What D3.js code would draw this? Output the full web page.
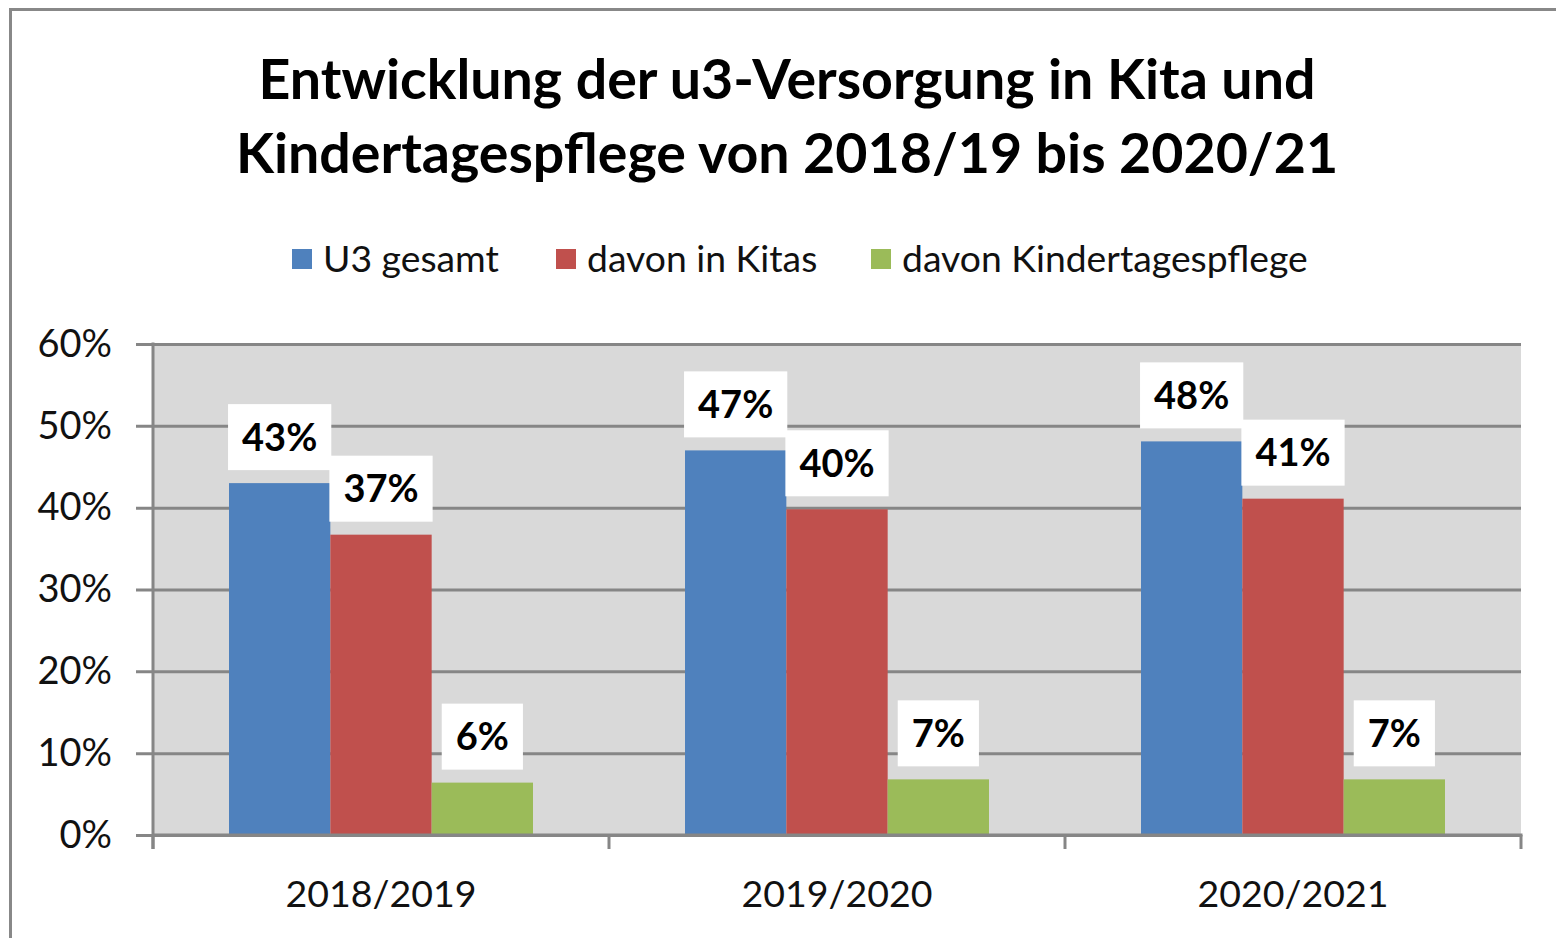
<!DOCTYPE html>
<html>
<head>
<meta charset="utf-8">
<script src="https://cdn.jsdelivr.net/npm/d3@7"></script>
<style>
  html, body { margin: 0; padding: 0; background: #fff; }
  svg { display: block; }
  text { font-family: Lato, "Open Sans", sans-serif; }
</style>
</head>
<body>
<svg id="chart" width="1556" height="938"></svg>
<script>
const categories = ["2018/2019", "2019/2020", "2020/2021"];
const seriesNames = ["U3 gesamt", "davon in Kitas", "davon Kindertagespflege"];
const u3Gesamt = [0.430, 0.470, 0.481];
const davonKitas = [0.367, 0.398, 0.411];
const davonKTP = [0.064, 0.068, 0.068];
const labelsU3 = ["43%", "47%", "48%"];
const labelsKitas = ["37%", "40%", "41%"];
const labelsKTP = ["6%", "7%", "7%"];
const yTicks = [0, 0.1, 0.2, 0.3, 0.4, 0.5, 0.6];
const titleLines = ["Entwicklung der u3-Versorgung in Kita und", "Kindertagespflege von 2018/19 bis 2020/21"];
const colors = ["#4F81BD", "#C0504D", "#9BBB59"];

const series = [
  { name: seriesNames[0], values: u3Gesamt, labels: labelsU3, color: colors[0] },
  { name: seriesNames[1], values: davonKitas, labels: labelsKitas, color: colors[1] },
  { name: seriesNames[2], values: davonKTP, labels: labelsKTP, color: colors[2] }
];

const svg = d3.select("#chart");
const plot = { left: 153, right: 1521, top: 344, bottom: 835 };
const gridColor = "#868686";

// outer border
svg.append("rect").attr("x", 10.5).attr("y", 9.5).attr("width", 1700).attr("height", 1100)
  .attr("fill", "#fff").attr("stroke", "#888").attr("stroke-width", 3);

// title
svg.append("g").selectAll("text").data(titleLines).join("text")
  .attr("x", 787).attr("y", (d, i) => 99 + i * 74)
  .attr("text-anchor", "middle").attr("font-weight", "bold").attr("font-size", 55.5)
  .attr("fill", "#000").text(d => d);

// legend
const legendX = [292, 556, 871];
const lg = svg.append("g").selectAll("g").data(series).join("g")
  .attr("transform", (d, i) => `translate(${legendX[i]},259)`);
lg.append("rect").attr("x", 0).attr("y", -10).attr("width", 20).attr("height", 20).attr("fill", d => d.color);
lg.append("text").attr("x", 31).attr("y", 0).attr("dy", "0.36em")
  .attr("font-size", 37.3).attr("fill", "#111").text(d => d.name);

// scales
const y = d3.scaleLinear().domain([0, 0.6]).range([plot.bottom, plot.top]);
const x0 = d3.scaleBand().domain(categories).range([plot.left, plot.right]).padding(0);
const bw = x0.bandwidth();
const x1 = d3.scaleBand().domain(seriesNames).range([bw / 6, bw * 5 / 6]).padding(0);

// plot background
svg.append("rect").attr("x", plot.left).attr("y", plot.top)
  .attr("width", plot.right - plot.left).attr("height", plot.bottom - plot.top).attr("fill", "#D9D9D9");

// y axis with gridlines
const yAxis = d3.axisLeft(y).tickValues(yTicks).tickFormat(d3.format(".0%"))
  .tickSize(-(plot.right - plot.left)).tickPadding(41);
const yg = svg.append("g").attr("transform", `translate(${plot.left},0)`).call(yAxis);
yg.select(".domain").remove();
yg.selectAll(".tick line").attr("stroke", gridColor).attr("stroke-width", 3).attr("x1", -17);
yg.selectAll(".tick text").attr("font-size", 38).attr("fill", "#111").attr("font-family", "Lato, sans-serif");

// y axis line
svg.append("line").attr("x1", plot.left).attr("x2", plot.left).attr("y1", plot.top - 1.5).attr("y2", plot.bottom + 14)
  .attr("stroke", gridColor).attr("stroke-width", 3);

// bars
const groups = svg.append("g").selectAll("g").data(series).join("g");
groups.selectAll("rect").data(s => s.values.map((v, i) => ({ v, i, s }))).join("rect")
  .attr("x", d => x0(categories[d.i]) + x1(d.s.name))
  .attr("y", d => y(d.v))
  .attr("width", x1.bandwidth())
  .attr("height", d => y(0) - y(d.v))
  .attr("fill", d => d.s.color);

// x axis
const xg = svg.append("g").attr("transform", `translate(0,${plot.bottom})`)
  .call(d3.axisBottom(x0).tickSize(0).tickPadding(45));
xg.select(".domain").remove();
xg.selectAll(".tick text").attr("font-size", 37.5).attr("fill", "#111").attr("font-family", "Lato, sans-serif");
svg.append("line").attr("x1", plot.left).attr("x2", plot.right + 1.5).attr("y1", plot.bottom).attr("y2", plot.bottom)
  .attr("stroke", gridColor).attr("stroke-width", 3);
const bounds = categories.map(c => x0(c)).concat([plot.right]);
svg.append("g").selectAll("line").data(bounds).join("line")
  .attr("x1", d => d).attr("x2", d => d).attr("y1", plot.bottom).attr("y2", plot.bottom + 14)
  .attr("stroke", gridColor).attr("stroke-width", 3);

// data labels with white boxes
const labelData = [];
series.forEach(s => s.values.forEach((v, i) => labelData.push({ s, v, i, label: s.labels[i] })));
const lbl = svg.append("g").selectAll("g").data(labelData).join("g")
  .attr("transform", d => `translate(${x0(categories[d.i]) + x1(d.s.name) + x1.bandwidth() / 2},${y(d.v) - 13 - 33})`);
lbl.append("rect").attr("fill", "#fff");
lbl.append("text").attr("text-anchor", "middle").attr("dy", "0.36em")
  .attr("font-size", 38).attr("font-weight", "bold").attr("fill", "#000").text(d => d.label);
lbl.each(function () {
  const g = d3.select(this);
  const w = g.select("text").node().getComputedTextLength();
  g.select("rect").attr("x", -w / 2 - 14).attr("y", -33).attr("width", w + 28).attr("height", 66);
});
</script>
</body>
</html>
